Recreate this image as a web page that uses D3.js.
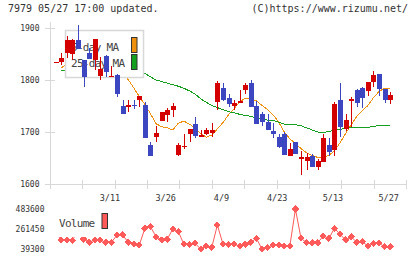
<!DOCTYPE html>
<html>
<head>
<meta charset="utf-8">
<script src="https://cdn.jsdelivr.net/npm/d3@7"></script>
<style>
body { margin: 0; background: #fff; }
svg { display: block; font-family: "DejaVu Sans Mono", monospace; }
</style>
</head>
<body>
<svg id="svg" width="420" height="259"></svg>
<script>
// 株価データ（ローソク足）
var openP  = [1834,1834,1851,1850,1877,1838,1851,1838,1808,1846,1807,1810,1750,1750,1752,1762,1752,1675,1691,1722,1733,1742,1656,1673,1697,1715,1693,1697,1698,1758,1784,1765,1750,1756,1781,1794,1750,1734,1719,1702,1691,1696,1654,1681,1650,1645,1653,1632,1643,1675,1665,1761,1705,1762,1781,1784,1778,1797,1812,1783,1761];
var closeP = [1835,1842,1877,1876,1860,1805,1840,1879,1822,1816,1808,1773,1734,1751,1750,1769,1688,1654,1699,1738,1742,1750,1675,1674,1706,1692,1694,1703,1704,1794,1761,1754,1756,1760,1790,1749,1715,1719,1704,1696,1672,1656,1667,1658,1651,1651,1632,1644,1689,1662,1754,1710,1723,1763,1755,1766,1797,1810,1782,1761,1771];
var highP  = [1835,1851,1885,1879,1906,1838,1861,1879,1845,1849,1826,1811,1761,1761,1761,1769,1758,1681,1712,1738,1747,1756,1679,1697,1706,1728,1704,1708,1718,1798,1794,1774,1761,1781,1794,1800,1760,1738,1734,1717,1697,1700,1678,1681,1663,1660,1657,1649,1697,1689,1758,1795,1735,1768,1783,1787,1797,1818,1812,1783,1776];
var lowP   = [1834,1829,1843,1838,1860,1787,1840,1819,1800,1806,1807,1767,1734,1739,1745,1749,1688,1654,1681,1721,1720,1729,1654,1667,1681,1688,1691,1694,1691,1742,1759,1749,1742,1756,1773,1749,1715,1712,1704,1689,1669,1656,1654,1658,1617,1626,1632,1626,1643,1653,1653,1691,1702,1710,1748,1746,1770,1787,1770,1756,1754];

// 移動平均
var ma5  = [null,1823,1832,1842,1852,1856,1852,1852,1845,1836,1833,1824,1812,1801,1785,1768,1753,1735,1716,1710,1708,1704,1717,1721,1715,1708,1697,1690,1694,1706,1718,1733,1745,1758,1765,1763,1760,1751,1743,1733,1719,1700,1687,1678,1668,1660,1655,1651,1651,1655,1664,1679,1697,1714,1730,1741,1751,1766,1778,1784,1784];
var ma25 = [null,1818,1819,1821,1822,1822,1823,1824,1824,1823,1823,1822,1820,1819,1817,1814,1813,1806,1800,1797,1794,1791,1788,1784,1779,1773,1764,1757,1751,1747,1743,1739,1737,1734,1732,1730,1727,1724,1723,1722,1719,1715,1714,1714,1712,1708,1704,1700,1699,1701,1703,1705,1707,1709,1709,1709,1709,1711,1712,1713,1713];

// 出来高
var volume = [220000,139300,139300,133700,250000,150400,113700,139300,139300,113700,113700,194800,194800,113700,94800,83700,269200,287000,175900,139300,147000,261400,231500,91500,91500,102600,39300,72600,58200,305900,94800,91500,91500,72600,91500,113700,158100,39300,58200,83700,83700,72600,72600,483600,158100,109300,109300,109300,183700,158100,269200,202600,139300,175900,113700,120400,72600,102600,102600,64800,64800];

// 目盛り
var priceTicks = [1600, 1700, 1800, 1900];
var volTicks = [39300, 261450, 483600];
var dateLabels = ['3/11', '3/26', '4/9', '4/23', '5/13', '5/27'];
var dateIndex = [10, 20, 30, 40, 50, 60];

var upColor = '#d40000';
var downColor = '#3c46c0';
var volColor = '#ff5a5a';
var axisColor = '#d8d8d8';
var textColor = '#333';

var svg = d3.select('#svg');

var x = d3.scaleLinear().domain([0, closeP.length - 1]).range([55.7, 390.2]);
var y = d3.scaleLinear().domain([1600, 1900]).range([184, 28]);
var yVol = d3.scaleLinear().domain([39300, 483600]).range([249, 209]);
var xTick = d3.scaleLinear().domain([0, 11]).range([50, 406]);

/*************************** タイトル ******************************/

svg.append('text').attr('x', 8).attr('y', 11.5)
    .attr('font-size', 10).attr('fill', textColor)
    .text('7979 05/27 17:00 updated.');
svg.append('text').attr('x', 408).attr('y', 11.5)
    .attr('font-size', 10).attr('fill', textColor).attr('text-anchor', 'end')
    .text('(C)https://www.rizumu.net/');

/*************************** 軸 ******************************/

var axis = svg.append('g').attr('shape-rendering', 'crispEdges').attr('stroke', axisColor);
axis.append('line').attr('x1', 50.5).attr('x2', 50.5).attr('y1', 22).attr('y2', 189);
axis.append('line').attr('x1', 50).attr('x2', 406).attr('y1', 184.5).attr('y2', 184.5);

axis.selectAll('.yt').data(priceTicks).enter().append('line')
    .attr('x1', 45).attr('x2', 55)
    .attr('y1', function(d) { return Math.round(y(d)) + 0.5; })
    .attr('y2', function(d) { return Math.round(y(d)) + 0.5; });

axis.selectAll('.xt').data(d3.range(12)).enter().append('line')
    .attr('x1', function(d) { return Math.round(xTick(d)) + 0.5; })
    .attr('x2', function(d) { return Math.round(xTick(d)) + 0.5; })
    .attr('y1', 180).attr('y2', 189);

svg.selectAll('.ylab').data(priceTicks).enter().append('text')
    .attr('x', 39.5).attr('y', function(d) { return y(d) + 3; })
    .attr('text-anchor', 'end').attr('font-size', 8).attr('fill', textColor)
    .text(function(d) { return d; });

svg.selectAll('.xlab').data(dateLabels).enter().append('text')
    .attr('x', function(d, i) { return x(dateIndex[i]) - 1.5; })
    .attr('y', 200.5)
    .attr('text-anchor', 'middle').attr('font-size', 8.5).attr('fill', textColor)
    .text(function(d) { return d; });

/*************************** 移動平均線 ******************************/

function maLine(values, color) {
    var line = d3.line()
        .defined(function(d) { return d != null; })
        .x(function(d, i) { return x(i); })
        .y(function(d) { return y(d); });
    svg.append('path').datum(values)
        .attr('d', line).attr('fill', 'none')
        .attr('stroke', color).attr('stroke-width', 1)
        .attr('shape-rendering', 'crispEdges');
}
maLine(ma5, '#f0900f');
maLine(ma25, '#14a01e');

/*************************** 凡例 ******************************/

svg.append('rect').attr('x', 65.5).attr('y', 30.5).attr('width', 78).attr('height', 47)
    .attr('fill', '#fff').attr('stroke', axisColor).attr('stroke-width', 1.5);
svg.append('text').attr('x', 71).attr('y', 50.7)
    .attr('font-size', 11).attr('letter-spacing', -0.7).attr('fill', '#444').text('5-day MA');
svg.append('text').attr('x', 71).attr('y', 66.7)
    .attr('font-size', 11).attr('letter-spacing', -0.7).attr('fill', '#444').text('25-day MA');
svg.append('rect').attr('x', 131.5).attr('y', 37.5).attr('width', 5.5).attr('height', 15)
    .attr('fill', '#f0900f').attr('stroke', '#333');
svg.append('rect').attr('x', 131.5).attr('y', 54.5).attr('width', 5.5).attr('height', 15)
    .attr('fill', '#14a01e').attr('stroke', '#333');

/*************************** ローソク足 ******************************/

var candles = svg.append('g').attr('shape-rendering', 'crispEdges');
var cg = candles.selectAll('g').data(closeP).enter().append('g');

cg.append('line')
    .attr('x1', function(d, i) { return Math.round(x(i)) + 0.5; })
    .attr('x2', function(d, i) { return Math.round(x(i)) + 0.5; })
    .attr('y1', function(d, i) { return y(highP[i]); })
    .attr('y2', function(d, i) { return y(lowP[i]); })
    .attr('stroke', function(d, i) { return d >= openP[i] ? upColor : downColor; });

cg.append('rect')
    .attr('x', function(d, i) { return Math.round(x(i)) - 2; })
    .attr('width', 5)
    .attr('y', function(d, i) { return y(Math.max(d, openP[i])); })
    .attr('height', function(d, i) { return Math.max(1.5, Math.abs(y(d) - y(openP[i]))); })
    .attr('fill', function(d, i) { return d >= openP[i] ? upColor : downColor; });

/*************************** 出来高 ******************************/

var volLine = d3.line()
    .x(function(d, i) { return x(i); })
    .y(function(d) { return yVol(d); });
svg.append('path').datum(volume).attr('d', volLine)
    .attr('fill', 'none').attr('stroke', volColor).attr('stroke-width', 1);

// 菱形マーカー
var marker = d3.symbol().type(d3.symbolSquare).size(26);
svg.append('g').attr('shape-rendering', 'crispEdges')
    .selectAll('path').data(volume).enter().append('path')
    .attr('d', marker)
    .attr('transform', function(d, i) {
        return 'translate(' + x(i) + ',' + yVol(d) + ') rotate(45)';
    })
    .attr('fill', volColor);

svg.append('rect').attr('x', 52).attr('y', 204).attr('width', 60).attr('height', 33).attr('fill', '#fff');
svg.append('text').attr('x', 59).attr('y', 227.3)
    .attr('font-size', 11).attr('letter-spacing', -0.7).attr('fill', '#444').text('Volume');
svg.append('rect').attr('x', 102).attr('y', 213.5).attr('width', 5.5).attr('height', 15)
    .attr('fill', volColor).attr('stroke', '#333');

svg.selectAll('.vlab').data(volTicks).enter().append('text')
    .attr('x', 44.5).attr('y', function(d) { return yVol(d) + 2.8; })
    .attr('text-anchor', 'end').attr('font-size', 8).attr('fill', textColor)
    .text(function(d) { return d; });
</script>
</body>
</html>
